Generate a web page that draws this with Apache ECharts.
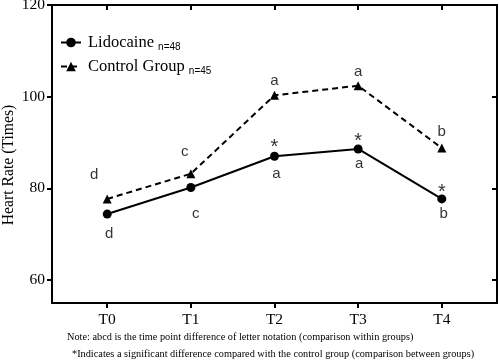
<!DOCTYPE html>
<html><head><meta charset="utf-8">
<script src="https://cdn.jsdelivr.net/npm/echarts@6/dist/echarts.min.js"></script>
<style>html,body{margin:0;padding:0;background:#fff}#c{width:500px;height:364px}</style>
</head><body><div id="c"></div>
<script>
var categories = ['T0','T1','T2','T3','T4'];
var lidocaine = [74.4, 80.2, 87.0, 88.6, 77.7];
var control = [77.7, 83.2, 100.3, 102.4, 88.8];
var lidoLetters = ['d','c','a','a','b'];
var ctrlLetters = ['d','c','a','a','b'];
var lidoStars = ['','','*','*','*'];
var yTicks = [60, 80, 100, 120];

var serif = 'Liberation Serif';
var sans = 'Liberation Sans';
// label offsets (style)
var ctrlOff = [[-13,-24],[-6,-22],[0,-14],[0,-14],[0,-16]];
var lidoOff = [[2,20],[5,26],[2,18],[1,15],[2,15]];
var starOff = [[0,-9],[0,-9],[0,-9],[0,-7],[0,-6]];

function pts(vals){ return vals.map(function(v,i){ return [i, v]; }); }
function annot(vals, texts, offs, size){
  return vals.map(function(v,i){
    return {value:[i,v], label:{show: texts[i] !== '', formatter: texts[i], offset: offs[i], position:'inside', fontSize:size, fontFamily:sans, color:'#000'}};
  });
}

var chart = echarts.init(document.getElementById('c'));
chart.setOption({
  animation:false,
  grid:{left:52, right:3, top:5, bottom:61, outerBoundsMode:'none', containLabel:false},
  legend:{
    left:55, top:29, orient:'vertical', itemGap:6, itemWidth:20, itemHeight:12,
    data:['Lidocaine','Control Group'],
    formatter:function(n){ return n==='Lidocaine' ? 'Lidocaine {s|n=48}' : 'Control Group {s|n=45}'; },
    textStyle:{fontFamily:serif, fontSize:16.5, color:'#000', padding:[0,0,0,2],
      rich:{s:{fontFamily:sans, fontSize:10, color:'#000', verticalAlign:'bottom', padding:[9,0,0,0]}}}
  },
  xAxis:[{
    type:'value', min:-0.66, max:4.66, position:'bottom',
    axisLine:{show:true, onZero:false, lineStyle:{color:'#000', width:2}},
    axisTick:{show:true, customValues:[0,1,2,3,4], length:5, lineStyle:{color:'#000', width:2}},
    axisLabel:{customValues:[0,1,2,3,4], formatter:function(v){ return categories[Math.round(v)]; }, fontFamily:serif, fontSize:15.5, color:'#000', margin:9},
    splitLine:{show:false}
  },{
    type:'value', min:-0.66, max:4.66, position:'top',
    axisLine:{show:true, onZero:false, lineStyle:{color:'#000', width:2}},
    axisTick:{show:true, inside:true, customValues:[0,1,2,3,4], length:5, lineStyle:{color:'#000', width:2}},
    axisLabel:{show:false}, splitLine:{show:false}
  }],
  yAxis:[{
    type:'value', min:55, max:120, position:'left',
    axisLine:{show:true, onZero:false, lineStyle:{color:'#000', width:2}},
    axisTick:{show:true, customValues:yTicks, length:5, lineStyle:{color:'#000', width:2}},
    axisLabel:{customValues:yTicks, fontFamily:serif, fontSize:15.5, color:'#000', margin:7},
    splitLine:{show:false}
  },{
    type:'value', min:55, max:120, position:'right',
    axisLine:{show:true, onZero:false, lineStyle:{color:'#000', width:2}},
    axisTick:{show:true, inside:true, customValues:yTicks, length:5, lineStyle:{color:'#000', width:2}},
    axisLabel:{show:false}, splitLine:{show:false}
  }],
  series:[
    {name:'Lidocaine', type:'line', data:pts(lidocaine), symbol:'circle', symbolSize:9,
     lineStyle:{color:'#000', width:2}, itemStyle:{color:'#000'}},
    {name:'Control Group', type:'line', data:pts(control), symbol:'triangle', symbolSize:9,
     lineStyle:{color:'#000', width:2, type:[6,4]}, itemStyle:{color:'#000'}},
    {type:'scatter', symbolSize:0, data:annot(control, ctrlLetters, ctrlOff, 15), silent:true},
    {type:'scatter', symbolSize:0, data:annot(lidocaine, lidoLetters, lidoOff, 15), silent:true},
    {type:'scatter', symbolSize:0, data:annot(lidocaine, lidoStars, starOff, 20), silent:true}
  ],
  graphic:[
    {type:'text', x:9, y:165, rotation:Math.PI/2, style:{text:'Heart Rate (Times)', font:'15.7px "Liberation Serif"', fill:'#000', align:'center', verticalAlign:'middle'}},
    {type:'text', left:67, top:332, style:{text:'Note: abcd is the time point difference of letter notation (comparison within groups)', font:'10.3px "Liberation Serif"', fill:'#000'}},
    {type:'text', left:72, top:349, style:{text:'*Indicates a significant difference compared with the control group (comparison between groups)', font:'10.3px "Liberation Serif"', fill:'#000'}}
  ]
});
</script></body></html>
